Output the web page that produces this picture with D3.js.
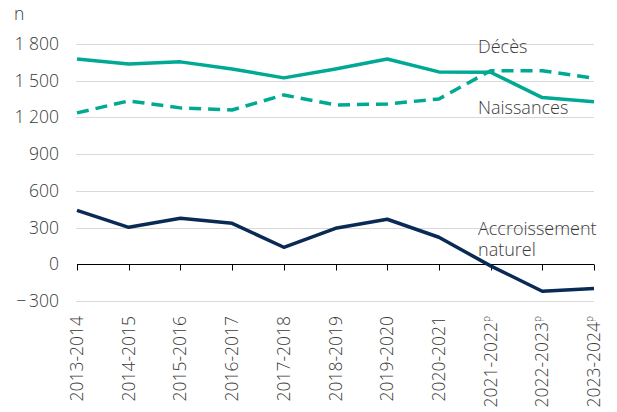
<!DOCTYPE html>
<html>
<head>
<meta charset="utf-8">
<script src="https://cdn.jsdelivr.net/npm/d3@7"></script>
<style>
  body { margin: 0; background: #fff; }
  text { font-family: "Open Sans", sans-serif; font-weight: 300; fill: #3a3a3a; }
</style>
</head>
<body>
<div id="chart-area"></div>
<script>
const periods = ["2013-2014", "2014-2015", "2015-2016", "2016-2017", "2017-2018",
  "2018-2019", "2019-2020", "2020-2021", "2021-2022", "2022-2023", "2023-2024"];
const provisional = [false, false, false, false, false, false, false, false, true, true, true];
const naissances = [1678, 1637, 1654, 1596, 1523, 1596, 1678, 1572, 1569, 1362, 1329];
const deces = [1237, 1335, 1278, 1261, 1384, 1302, 1310, 1351, 1582, 1582, 1520];
const accroissement = [441, 302, 376, 335, 139, 294, 368, 221, -13, -220, -198];
const yTicks = [-300, 0, 300, 600, 900, 1200, 1500, 1800];

const width = 617;
const height = 412;
const margin = { top: 44, right: 23, bottom: 111, left: 77 };

const teal = "#00a994";
const navy = "#0a2a56";

const svg = d3
  .select("#chart-area")
  .append("svg")
  .attr("width", width)
  .attr("height", height);

const x = d3
  .scalePoint()
  .domain(periods)
  .range([margin.left, width - margin.right]);

const y = d3
  .scaleLinear()
  .domain([-300, 1800])
  .range([height - margin.bottom + 0, margin.top]);

const fmt = (d) => {
  const s = d3.format(",")(Math.abs(d)).replace(/,/g, "\u00a0");
  return d < 0 ? "\u2212\u2009" + s : s;
};

// gridlines
svg
  .append("g")
  .selectAll("line")
  .data(yTicks.filter((d) => d !== 0))
  .join("line")
  .attr("x1", margin.left - 1)
  .attr("x2", width - margin.right)
  .attr("y1", (d) => Math.round(y(d)) + 0.5)
  .attr("y2", (d) => Math.round(y(d)) + 0.5)
  .attr("stroke", "#d9d9d9")
  .attr("stroke-width", 1);

// y labels
svg
  .append("g")
  .selectAll("text")
  .data(yTicks)
  .join("text")
  .attr("x", 59)
  .attr("y", (d) => y(d) + 6)
  .attr("text-anchor", "end")
  .style("font-size", "17.5px")
  .text(fmt);

svg
  .append("text")
  .attr("x", 14)
  .attr("y", 20)
  .style("font-size", "17.5px")
  .text("n");

// zero axis with ticks
const axis = svg
  .append("g")
  .attr("transform", `translate(0, ${Math.round(y(0)) + 0.5})`);

axis
  .append("line")
  .attr("x1", margin.left)
  .attr("x2", width - margin.right)
  .attr("stroke", "#000")
  .attr("stroke-width", 1);

axis
  .selectAll(".tick")
  .data(periods)
  .join("line")
  .attr("class", "tick")
  .attr("x1", (d) => Math.round(x(d)) + 0.5)
  .attr("x2", (d) => Math.round(x(d)) + 0.5)
  .attr("y1", 0)
  .attr("y2", 6)
  .attr("stroke", "#000");

// x labels, rotated
const xl = svg
  .append("g")
  .selectAll("text")
  .data(periods)
  .join("text")
  .attr("transform", (d) => `translate(${x(d) + 6}, 316) rotate(-90)`)
  .attr("text-anchor", "end")
  .style("font-size", "17.5px");

xl.append("tspan").text((d) => d);
xl.filter((d, i) => provisional[i])
  .append("tspan")
  .attr("dy", -7)
  .style("font-size", "10px")
  .text("p");

// lines
const line = d3
  .line()
  .x((d, i) => x(periods[i]))
  .y((d) => y(d));

const series = [
  { values: naissances, color: teal, dash: null },
  { values: deces, color: teal, dash: "12,7" },
  { values: accroissement, color: navy, dash: null },
];

svg
  .append("g")
  .selectAll("path")
  .data(series)
  .join("path")
  .attr("d", (d) => line(d.values))
  .attr("fill", "none")
  .attr("stroke", (d) => d.color)
  .attr("stroke-width", 3.5)
  .attr("stroke-dasharray", (d) => d.dash)
  .attr("stroke-linejoin", "round");

// series labels
const labels = [
  { text: ["Décès"], x: 478, y: 53 },
  { text: ["Naissances"], x: 478, y: 114 },
  { text: ["Accroissement", "naturel"], x: 478, y: 235 },
];

svg
  .append("g")
  .selectAll("text")
  .data(labels)
  .join("text")
  .attr("x", (d) => d.x)
  .attr("y", (d) => d.y)
  .style("font-size", "18px")
  .each(function (d) {
    d3.select(this)
      .selectAll("tspan")
      .data(d.text)
      .join("tspan")
      .attr("x", d.x)
      .attr("dy", (t, i) => (i === 0 ? 0 : 21))
      .text((t) => t);
  });
</script>
</body>
</html>
